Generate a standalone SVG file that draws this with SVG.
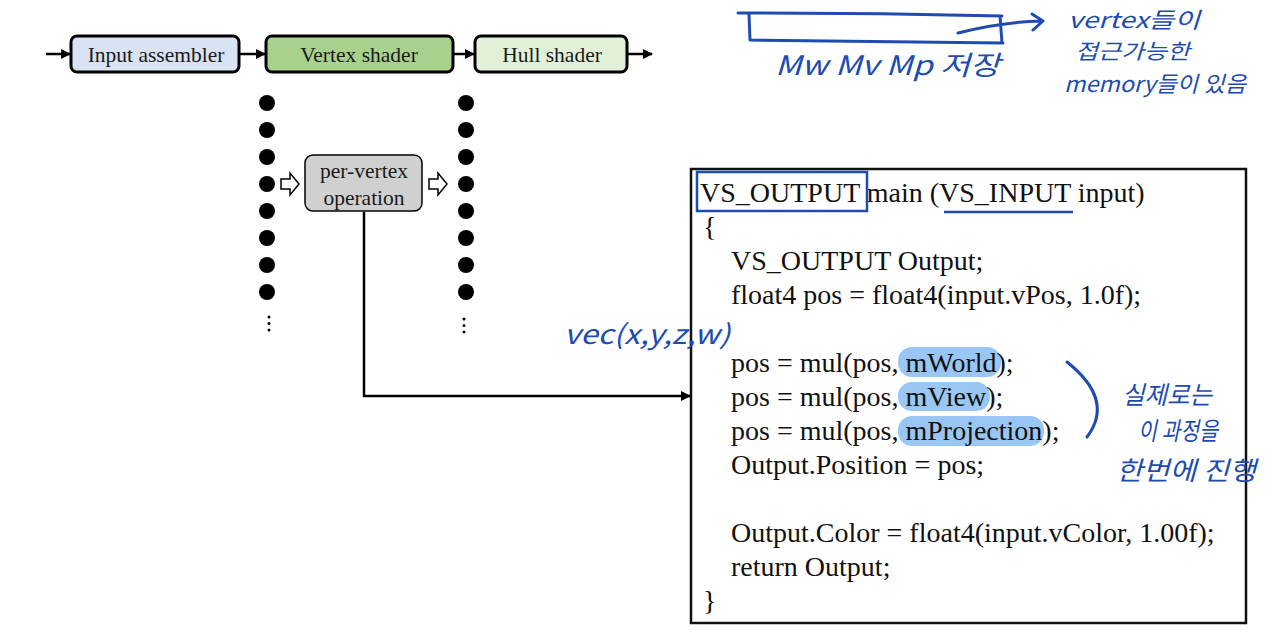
<svg xmlns="http://www.w3.org/2000/svg" width="1280" height="640" viewBox="0 0 1280 640">
<style>
.box{stroke:#000;stroke-width:3}
.lbl{font-family:"Liberation Serif","Times New Roman",serif;font-size:21.5px;fill:#1a1a1a;text-anchor:middle}
.code{font-family:"Liberation Serif","Times New Roman",serif;font-size:28px;fill:#111}
.conn{stroke:#000;stroke-width:2.5;fill:none}
.hand{font-family:"Noto Sans CJK KR","Noto Sans",sans-serif;fill:#1d4bb0;font-style:italic}
.ink{stroke:#1d4bb0;stroke-width:3;fill:none;stroke-linecap:round;stroke-linejoin:round}
.hl{fill:#8ec0f2;opacity:0.9}
.dot{fill:#000}
</style>
<defs>
<marker id="ah" viewBox="0 0 10 10" refX="9" refY="5" markerWidth="4" markerHeight="4" orient="auto">
<path d="M0,0 L10,5 L0,10 z" fill="#000"/>
</marker>
</defs>
<rect width="1280" height="640" fill="#fff"/>

<g id="connectors">
<line class="conn" x1="46" y1="54" x2="70" y2="54" marker-end="url(#ah)"/>
<line class="conn" x1="240" y1="54" x2="265" y2="54" marker-end="url(#ah)"/>
<line class="conn" x1="454" y1="54" x2="474" y2="54" marker-end="url(#ah)"/>
<line class="conn" x1="628" y1="54" x2="652" y2="54" marker-end="url(#ah)"/>
<polyline class="conn" points="364,212 364,396 690,396" marker-end="url(#ah)"/>
<path d="M281,179 H290 V173 L299,184 L290,195 V189 H281 Z" fill="#fff" stroke="#000" stroke-width="1.5"/>
<path d="M429,179 H438 V173 L447,184 L438,195 V189 H429 Z" fill="#fff" stroke="#000" stroke-width="1.5"/>
</g>

<g id="input-assembler">
<rect class="box" x="71" y="36" width="168" height="36" rx="6" fill="#dae3f3"/>
<text class="lbl" x="156" y="62">Input assembler</text>
</g>
<g id="vertex-shader">
<rect class="box" x="266" y="36" width="187" height="36" rx="6" fill="#a9d18e"/>
<text class="lbl" x="359" y="62">Vertex shader</text>
</g>
<g id="hull-shader">
<rect class="box" x="475" y="36" width="152" height="36" rx="6" fill="#e2f0d9"/>
<text class="lbl" x="552" y="62">Hull shader</text>
</g>

<g id="input-dots">
<circle class="dot" cx="267" cy="103" r="8"/>
<circle class="dot" cx="267" cy="130" r="8"/>
<circle class="dot" cx="267" cy="157" r="8"/>
<circle class="dot" cx="267" cy="184" r="8"/>
<circle class="dot" cx="267" cy="211" r="8"/>
<circle class="dot" cx="267" cy="238" r="8"/>
<circle class="dot" cx="267" cy="265" r="8"/>
<circle class="dot" cx="267" cy="292" r="8"/>
<circle class="dot" cx="269" cy="317" r="1.5"/>
<circle class="dot" cx="269" cy="323.5" r="1.5"/>
<circle class="dot" cx="269" cy="330" r="1.5"/>
</g>
<g id="output-dots">
<circle class="dot" cx="466" cy="103" r="8"/>
<circle class="dot" cx="466" cy="130" r="8"/>
<circle class="dot" cx="466" cy="157" r="8"/>
<circle class="dot" cx="466" cy="184" r="8"/>
<circle class="dot" cx="466" cy="211" r="8"/>
<circle class="dot" cx="466" cy="238" r="8"/>
<circle class="dot" cx="466" cy="265" r="8"/>
<circle class="dot" cx="466" cy="292" r="8"/>
<circle class="dot" cx="464" cy="319" r="1.5"/>
<circle class="dot" cx="464" cy="325.5" r="1.5"/>
<circle class="dot" cx="464" cy="332" r="1.5"/>
</g>

<g id="per-vertex-operation">
<rect x="305" y="155" width="117" height="56" rx="8" fill="#d0d0d0" stroke="#000" stroke-width="1.5"/>
<text class="lbl" x="364" y="178">per-vertex</text>
<text class="lbl" x="364" y="205">operation</text>
</g>

<g id="code-box">
<rect x="691" y="169" width="555" height="454" fill="#fff" stroke="#111" stroke-width="2.5"/>
<rect class="hl" x="898" y="347" width="103" height="30" rx="14"/>
<rect class="hl" x="898" y="382" width="92" height="29" rx="14"/>
<rect class="hl" x="898" y="416" width="146" height="30" rx="14"/>
<text class="code" x="700" y="202">VS_OUTPUT main (VS_INPUT input)</text>
<text class="code" x="703" y="236">{</text>
<text class="code" x="731" y="270">VS_OUTPUT Output;</text>
<text class="code" x="731" y="304">float4 pos = float4(input.vPos, 1.0f);</text>
<text class="code" x="731" y="372">pos = mul(pos, mWorld);</text>
<text class="code" x="731" y="406">pos = mul(pos, mView);</text>
<text class="code" x="731" y="440">pos = mul(pos, mProjection);</text>
<text class="code" x="731" y="474">Output.Position = pos;</text>
<text class="code" x="731" y="542">Output.Color = float4(input.vColor, 1.00f);</text>
<text class="code" x="731" y="576">return Output;</text>
<text class="code" x="703" y="610">}</text>
<rect x="697" y="172" width="170" height="39" fill="none" stroke="#1d4bb0" stroke-width="2.5"/>
<line x1="944" y1="212" x2="1073" y2="212" stroke="#1d4bb0" stroke-width="2.5"/>
</g>

<g id="annotations">
<path class="ink" d="M738,13 Q870,13 1002,16 M749,15 L750,40 Q875,41 1003,43 M1000,16 L1002,43"/>
<path class="ink" d="M958,33 Q1000,22 1042,21 M1032,14 L1043,21 L1033,30"/>
<text class="hand" x="775" y="75" font-size="27" textLength="225" lengthAdjust="spacingAndGlyphs">Mw   Mv   Mp 저장</text>
<text class="hand" x="1068" y="28" font-size="22" textLength="132" lengthAdjust="spacingAndGlyphs">vertex들이</text>
<text class="hand" x="1075" y="59" font-size="21" textLength="115" lengthAdjust="spacingAndGlyphs">접근가능한</text>
<text class="hand" x="1064" y="92" font-size="22" textLength="182" lengthAdjust="spacingAndGlyphs">memory들이 있음</text>
<text class="hand" x="564" y="344" font-size="27" textLength="166" lengthAdjust="spacingAndGlyphs">vec(x,y,z,w)</text>
<path class="ink" d="M1067,362 Q1115,400 1087,437"/>
<text class="hand" x="1122" y="404" font-size="25" textLength="90" lengthAdjust="spacingAndGlyphs">실제로는</text>
<text class="hand" x="1138" y="440" font-size="25" textLength="80" lengthAdjust="spacingAndGlyphs">이 과정을</text>
<text class="hand" x="1116" y="480" font-size="26" textLength="140" lengthAdjust="spacingAndGlyphs">한번에 진행</text>
</g>
</svg>
